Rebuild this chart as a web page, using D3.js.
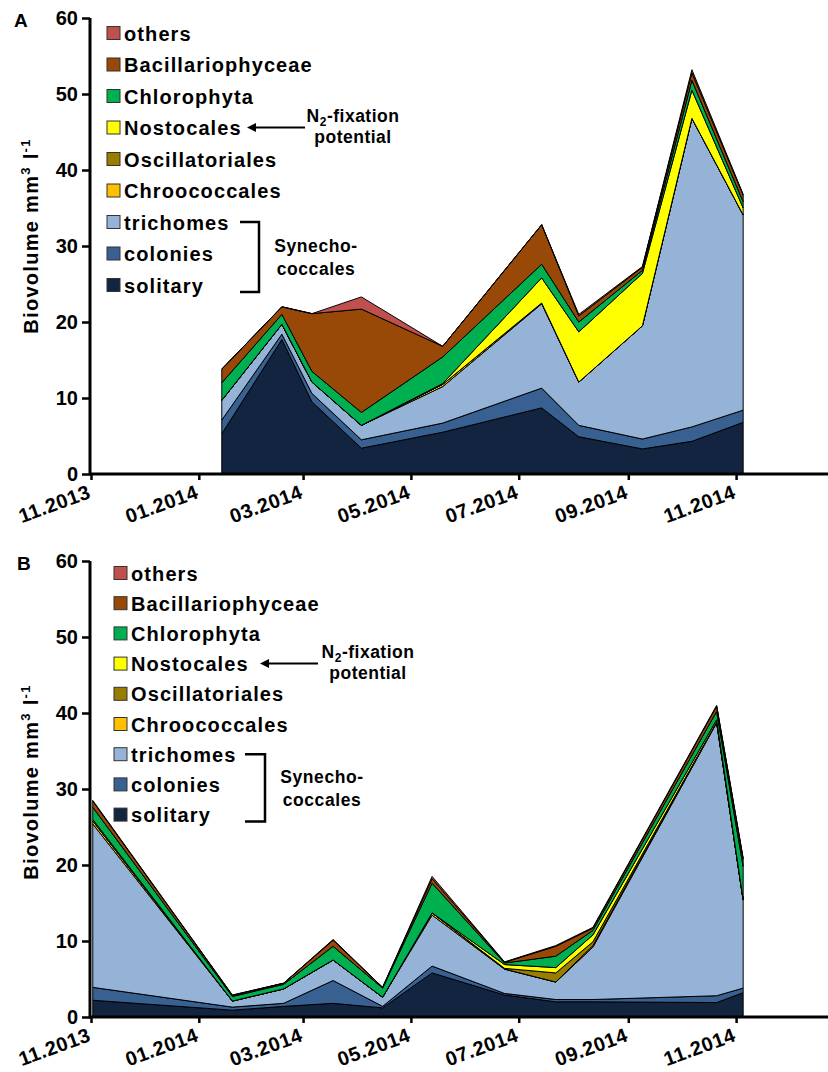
<!DOCTYPE html>
<html>
<head>
<meta charset="utf-8">
<script src="https://cdn.jsdelivr.net/npm/d3@7/dist/d3.min.js"></script>
<style>
  html, body { margin: 0; padding: 0; background: #fff; }
  svg { display: block; font-family: "Liberation Sans", Arial, sans-serif; }
</style>
</head>
<body>
<svg id="chart" width="828" height="1072"></svg>
<script>
// Layer names, bottom to top of the stack
const seriesKeys = ["solitary", "colonies", "trichomes", "Chroococcales", "Oscillatoriales",
                    "Nostocales", "Chlorophyta", "Bacillariophyceae", "others"];
const seriesColors = ["#12243f", "#386192", "#95b3d7", "#ffc000", "#9a7d00",
                      "#ffff00", "#00b050", "#984807", "#c0504d"];

// Axis ticks
const tickDates = ["2013-11-01", "2014-01-01", "2014-03-01", "2014-05-01", "2014-07-01", "2014-09-01", "2014-11-01"];
const tickLabels = ["11.2013", "01.2014", "03.2014", "05.2014", "07.2014", "09.2014", "11.2014"];
const yTicks = [0, 10, 20, 30, 40, 50, 60];

// Panel A sampling dates and biovolumes (mm3 l-1)
const datesA = ["2014-01-14", "2014-02-17", "2014-03-06", "2014-04-03", "2014-05-19",
                "2014-07-14", "2014-08-04", "2014-09-09", "2014-10-07", "2014-11-05"];
const solitaryA          = [5.3, 17.7, 9.5, 3.4, 5.5, 8.7, 4.9, 3.3, 4.3, 6.8];
const coloniesA          = [1.8, 0.7, 1.1, 1.1, 1.2, 2.6, 1.5, 1.3, 1.9, 1.6];
const trichomesA         = [2.6, 1.3, 1.5, 1.9, 4.8, 11.1, 5.7, 14.9, 40.6, 25.7];
const chroococcalesA     = [0, 0, 0, 0, 0.3, 0.1, 0, 0, 0, 0];
const oscillatorialesA   = [0, 0, 0, 0, 0, 0, 0, 0, 0, 0];
const nostocalesA        = [0, 0, 0, 0, 0.1, 3.3, 6.6, 6.9, 3.7, 0.9];
const chlorophytaA       = [2.3, 1.3, 1.4, 1.7, 3.5, 1.8, 1.3, 0.4, 1.3, 0.8];
const bacillariophyceaeA = [1.8, 1.0, 7.6, 13.6, 1.4, 5.2, 0.8, 0.4, 1.0, 0.9];
const othersA            = [0, 0, 0, 1.6, 0, 0, 0.2, 0.1, 0.4, 0.1];

// Panel B sampling dates and biovolumes (mm3 l-1)
const datesB = ["2013-11-02", "2014-01-20", "2014-02-18", "2014-03-18", "2014-04-15", "2014-05-13",
                "2014-06-23", "2014-07-22", "2014-08-12", "2014-10-21", "2014-11-05"];
const solitaryB          = [2.2, 0.9, 1.4, 1.8, 1.2, 5.8, 2.9, 2.0, 2.0, 1.9, 3.2];
const coloniesB          = [1.7, 0.4, 0.4, 3.0, 0.2, 0.9, 0.2, 0.3, 0.3, 0.9, 0.6];
const trichomesB         = [21.5, 0.8, 1.9, 2.7, 1.2, 6.7, 3.2, 2.3, 6.9, 35.9, 11.6];
const chroococcalesB     = [0.4, 0, 0, 0, 0, 0.3, 0, 0, 0.2, 0.1, 0];
const oscillatorialesB   = [0, 0, 0, 0, 0, 0, 0.1, 1.2, 0.5, 0, 0];
const nostocalesB        = [0.2, 0, 0, 0, 0, 0, 0.5, 0.7, 0.9, 0.3, 0];
const chlorophytaB       = [1.6, 0.6, 0.6, 1.8, 1.2, 3.9, 0.2, 1.5, 0.6, 1.1, 4.4];
const bacillariophyceaeB = [0.8, 0.15, 0.15, 0.8, 0.1, 0.6, 0.1, 1.3, 0.3, 0.7, 1.0];
const othersB            = [0.1, 0.05, 0, 0.1, 0, 0.3, 0.05, 0.1, 0.1, 0.1, 0.1];

const parseDate = d3.utcParse("%Y-%m-%d");

function buildRows(dates, cols) {
  return dates.map((d, i) => {
    const row = { date: parseDate(d) };
    seriesKeys.forEach((k, j) => { row[k] = cols[j][i]; });
    return row;
  });
}

const rowsA = buildRows(datesA, [solitaryA, coloniesA, trichomesA, chroococcalesA, oscillatorialesA,
                                 nostocalesA, chlorophytaA, bacillariophyceaeA, othersA]);
const rowsB = buildRows(datesB, [solitaryB, coloniesB, trichomesB, chroococcalesB, oscillatorialesB,
                                 nostocalesB, chlorophytaB, bacillariophyceaeB, othersB]);

const svg = d3.select("#chart");

const x = d3.scaleUtc()
  .domain([parseDate("2013-11-01"), parseDate("2014-12-23")])
  .range([91, 828]);

function drawPanel(cfg) {
  const g = svg.append("g");
  const y = d3.scaleLinear().domain([0, 60]).range([cfg.y0, cfg.y0 - 456]);

  const stack = d3.stack().keys(seriesKeys);
  const layers = stack(cfg.rows);
  const area = d3.area()
    .x(d => x(d.data.date))
    .y0(d => y(d[0]))
    .y1(d => y(d[1]));

  g.selectAll("path.layer")
    .data(layers)
    .join("path")
    .attr("class", "layer")
    .attr("d", area)
    .attr("fill", (d, i) => seriesColors[i])
    .attr("stroke", "#000")
    .attr("stroke-width", 1)
    .attr("stroke-linejoin", "round");

  // y axis
  const yAxis = d3.axisLeft(y).tickValues(yTicks).tickSize(8).tickPadding(4);
  const ya = g.append("g").attr("transform", "translate(90,0)").call(yAxis);
  ya.select(".domain").attr("stroke-width", 3).attr("d", `M0,${cfg.y0}V${cfg.y0 - 456}`);
  ya.selectAll(".tick line").attr("stroke-width", 2.5);
  ya.selectAll(".tick text")
    .attr("font-size", 20).attr("font-weight", "bold")
    .attr("font-family", "Liberation Sans, Arial, sans-serif").attr("fill", "#000");

  // x axis
  const xAxis = d3.axisBottom(x)
    .tickValues(tickDates.map(parseDate))
    .tickFormat((d, i) => tickLabels[i])
    .tickSize(6);
  const xa = g.append("g").attr("transform", `translate(0,${cfg.y0})`).call(xAxis);
  xa.select(".domain").attr("stroke-width", 3).attr("d", "M89,0H828");
  xa.selectAll(".tick line").attr("stroke-width", 2.5);
  xa.selectAll(".tick text")
    .attr("font-size", 20).attr("font-weight", "bold").attr("letter-spacing", 0.5)
    .attr("font-family", "Liberation Sans, Arial, sans-serif").attr("fill", "#000")
    .attr("text-anchor", "end")
    .attr("transform", "translate(-2,17) rotate(-20)")
    .attr("y", 0).attr("dy", "0.35em");

  // panel letter
  g.append("text").attr("x", cfg.letterX).attr("y", cfg.y0 - 447)
    .attr("font-size", 19).attr("font-weight", "bold").text(cfg.letter);

  // y-axis title
  const title = g.append("text")
    .attr("transform", `translate(38,${cfg.titleY}) rotate(-90)`)
    .attr("text-anchor", "middle")
    .attr("font-size", 20).attr("font-weight", "bold").attr("letter-spacing", 1.3);
  title.append("tspan").text("Biovolume mm");
  title.append("tspan").attr("font-size", 13).attr("dy", -8).text("3");
  title.append("tspan").attr("dy", 8).text(" l");
  title.append("tspan").attr("font-size", 13).attr("dy", -8).text("-1");

  // legend, top entry first
  const legendItems = seriesKeys.map((k, i) => ({ key: k, color: seriesColors[i] })).reverse();
  const lg = g.append("g");
  legendItems.forEach((it, i) => {
    const cy = cfg.legendTop + i * cfg.legendStep;
    lg.append("rect")
      .attr("x", cfg.swatchX).attr("y", cy - 6.5)
      .attr("width", 13).attr("height", 13)
      .attr("fill", it.color).attr("stroke", "#333").attr("stroke-width", 1);
    lg.append("text")
      .attr("x", cfg.swatchX + 17).attr("y", cy + 7.5)
      .attr("font-size", 20).attr("font-weight", "bold").attr("letter-spacing", 1.1)
      .text(it.key);
  });

  // N2-fixation annotation pointing at Nostocales
  const ny = cfg.legendTop + 3 * cfg.legendStep;
  g.append("line")
    .attr("x1", cfg.arrowX1).attr("x2", cfg.arrowX0 + 6).attr("y1", ny).attr("y2", ny)
    .attr("stroke", "#000").attr("stroke-width", 2);
  g.append("path")
    .attr("d", `M${cfg.arrowX0},${ny}l9,-4.5v9z`).attr("fill", "#000");
  const nt = g.append("text")
    .attr("x", cfg.noteX).attr("y", ny - 6)
    .attr("text-anchor", "middle").attr("font-size", 17.5).attr("font-weight", "bold")
    .attr("letter-spacing", 0.5);
  nt.append("tspan").text("N");
  nt.append("tspan").attr("font-size", 12).attr("dy", 4).text("2");
  nt.append("tspan").attr("dy", -4).text("-fixation");
  g.append("text")
    .attr("x", cfg.noteX).attr("y", ny + 15)
    .attr("text-anchor", "middle").attr("font-size", 17.5).attr("font-weight", "bold")
    .attr("letter-spacing", 0.5)
    .text("potential");

  // bracket grouping the Synechococcales forms
  const by0 = cfg.legendTop + 6 * cfg.legendStep;
  const by1 = cfg.legendTop + 8 * cfg.legendStep + 7;
  g.append("path")
    .attr("d", `M${cfg.bracketX0},${by0}H${cfg.bracketX1}V${by1}H${cfg.bracketX0}`)
    .attr("fill", "none").attr("stroke", "#000").attr("stroke-width", 2.5);
  const sx = cfg.bracketX1 + 57;
  const sy = (by0 + by1) / 2;
  g.append("text").attr("x", sx).attr("y", sy - 5)
    .attr("text-anchor", "middle").attr("font-size", 17.5).attr("font-weight", "bold")
    .attr("letter-spacing", 0.6).text("Synecho-");
  g.append("text").attr("x", sx).attr("y", sy + 18)
    .attr("text-anchor", "middle").attr("font-size", 17.5).attr("font-weight", "bold")
    .attr("letter-spacing", 0.6).text("coccales");
}

drawPanel({
  rows: rowsA, y0: 474, letter: "A", letterX: 14, titleY: 236,
  legendTop: 33, legendStep: 31.5, swatchX: 107,
  arrowX0: 247, arrowX1: 305, noteX: 353,
  bracketX0: 240, bracketX1: 259
});

drawPanel({
  rows: rowsB, y0: 1017, letter: "B", letterX: 17, titleY: 782,
  legendTop: 573, legendStep: 30.2, swatchX: 114,
  arrowX0: 260, arrowX1: 318, noteX: 368,
  bracketX0: 245, bracketX1: 265
});
</script>
</body>
</html>
